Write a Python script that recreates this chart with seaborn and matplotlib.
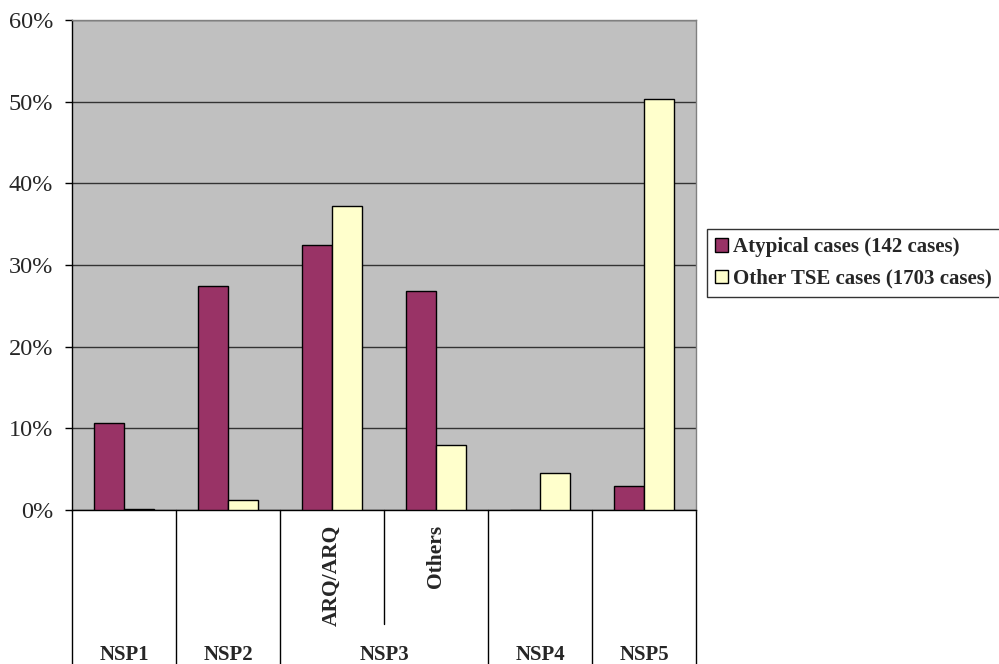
import matplotlib
matplotlib.use("Agg")
import matplotlib.pyplot as plt
import seaborn as sns
import pandas as pd
from matplotlib.ticker import PercentFormatter

categories = ["NSP1", "NSP2", "ARQ/ARQ", "Others", "NSP4", "NSP5"]
atypical = [10.6, 27.4, 32.4, 26.8, 0.0, 2.9]
other_tse = [0.15, 1.25, 37.2, 7.9, 4.5, 50.3]
series_names = ["Atypical cases (142 cases)", "Other TSE cases (1703 cases)"]
group_labels = ["NSP1", "NSP2", "NSP3", "NSP4", "NSP5"]
sub_labels = {2: "ARQ/ARQ", 3: "Others"}
yticks = [0, 10, 20, 30, 40, 50, 60]

df = pd.DataFrame({
    "cat": categories * 2,
    "val": atypical + other_tse,
    "series": [series_names[0]] * len(categories) + [series_names[1]] * len(categories),
})

sns.set_style("white")
plt.rcParams["font.family"] = ["Liberation Serif", "DejaVu Serif"]

fig = plt.figure(figsize=(9.99, 6.64), dpi=100)
ax = fig.add_axes([72 / 999, 1 - 510 / 664, 624 / 999, 490 / 664])

sns.barplot(data=df, x="cat", y="val", hue="series", order=categories,
            hue_order=series_names, palette=["#993366", "#FFFFCC"],
            width=0.577, edgecolor="black", linewidth=1.0, saturation=1,
            ax=ax, zorder=3)

ax.set_facecolor("#C0C0C0")
ax.set_xlim(-0.5, 5.5)
ax.set_ylim(0, 60)
ax.set_yticks(yticks)
ax.yaxis.set_major_formatter(PercentFormatter(decimals=0))
ax.set_xlabel("")
ax.set_ylabel("")
ax.set_xticks([])
ax.grid(axis="y", color="#333333", linewidth=1.0, zorder=1)
ax.set_axisbelow(True)
ax.tick_params(axis="y", length=5, width=1, color="black", labelsize=17.5, pad=8.5, left=True)
for s in ["left", "bottom"]:
    ax.spines[s].set_color("black")
    ax.spines[s].set_linewidth(1.0)
for s in ["top", "right"]:
    ax.spines[s].set_color("#808080")
    ax.spines[s].set_linewidth(1.0)

# lower table lines
trans = ax.get_xaxis_transform()
bottom_frac = -(664 - 510) / 490
partial_frac = -(624 - 510) / 490
for xb in [-0.5, 0.5, 1.5, 3.5, 4.5, 5.5]:
    ax.plot([xb, xb], [0, bottom_frac], color="black", linewidth=1.0,
            transform=trans, clip_on=False)
ax.plot([2.5, 2.5], [0, partial_frac], color="black", linewidth=1.0,
        transform=trans, clip_on=False)

# group labels
group_pos = [0, 1, 2.5, 4, 5]
label_y = -(655 - 510) / 490
for xp, lab in zip(group_pos, group_labels):
    ax.text(xp, label_y, lab, transform=trans, ha="center", va="center",
            fontsize=15, fontweight="bold")
sub_top = -(525 - 510) / 490
for xp, lab in sub_labels.items():
    ax.text(xp, sub_top, lab, transform=trans, ha="center", va="top",
            rotation=90, fontsize=15.5, fontweight="bold")

handles, labels = ax.get_legend_handles_labels()
if ax.get_legend() is not None:
    ax.get_legend().remove()
leg = fig.legend(handles, labels, loc="upper left", bbox_to_anchor=(707 / 999, 1 - 229 / 664),
                 borderaxespad=0, frameon=True, fancybox=False, edgecolor="black",
                 prop={"weight": "bold", "size": 15}, handlelength=0.6, handleheight=0.6,
                 handletextpad=0.25, labelspacing=0.55, borderpad=0.4)
leg.get_frame().set_linewidth(1.0)

fig.savefig("out.png", dpi=100)
